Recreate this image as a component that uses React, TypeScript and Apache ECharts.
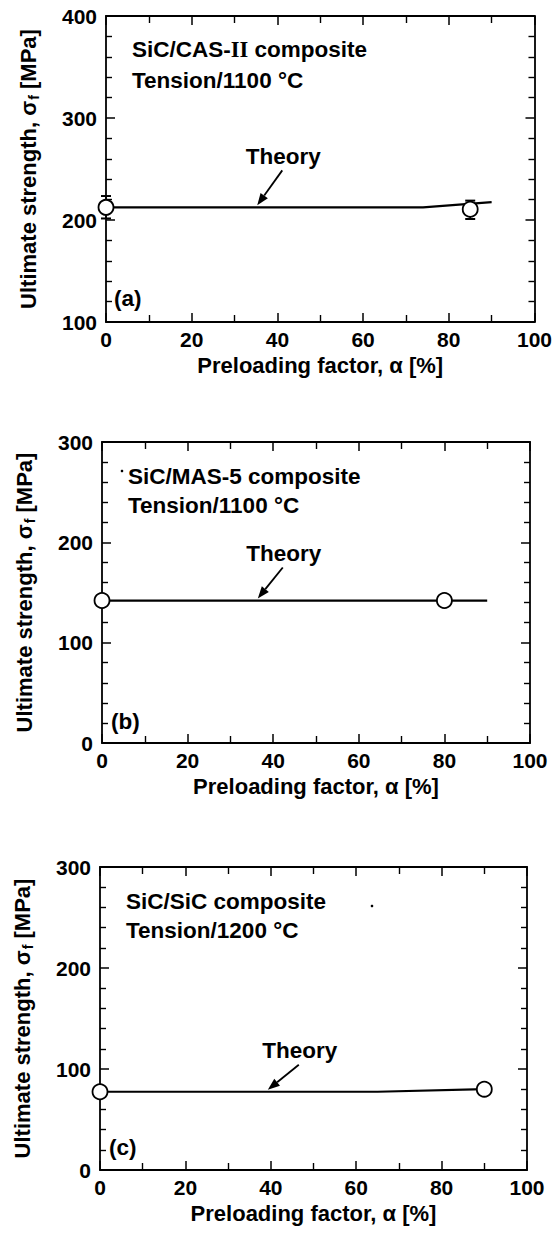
import React, { useEffect, useRef } from "react";
import * as echarts from "echarts";

const FONT = '"Liberation Sans", Arial, Helvetica, sans-serif';
const WEIGHT = "bold";

// ---- axis ranges / labels ----
const X_MIN = 0;
const X_MAX = 100;
const X_STEP = 20;
const Y_STEP = 100;
const yMins = [100, 0, 0];
const yMaxs = [400, 300, 300];
const xAxisTitle = "Preloading factor, α [%]";
const yAxisTitle = "Ultimate strength, σ{s|f} [MPa]";
const panelLetters = ["(a)", "(b)", "(c)"];
const materialLabels = ["SiC/CAS-{r|II} composite", "SiC/MAS-5 composite", "SiC/SiC composite"];
const conditionLabels = ["Tension/1100 °C", "Tension/1100 °C", "Tension/1200 °C"];
const theoryLabel = "Theory";

// ---- data (preloading factor %, ultimate strength MPa) ----
const expA = [[0, 212.4], [85, 210.5]];
const errA = [[0, 201.5, 223.5], [85, 201, 219]];
const theoryA = [[0, 212.4], [74, 212.4], [90, 217.5]];

const expB = [[0, 142], [80, 142]];
const theoryB = [[0, 142], [90, 142]];

const expC = [[0, 77.5], [90, 80]];
const theoryC = [[0, 77.5], [65, 77.5], [90, 80]];

const experiments = [expA, expB, expC];
const theories = [theoryA, theoryB, theoryC];

// arrow tip anchors on the theory line (data coords)
const theoryTips = [[35.3, 212.4], [36.4, 142], [39.3, 77.5]];

// ---- layout ----
const grids = [
  { left: 106, top: 16, width: 429, height: 306 },
  { left: 102, top: 442, width: 428, height: 301 },
  { left: 100, top: 867, width: 427, height: 303 },
];
const arrowVec = [[25, -35], [25, -31], [31, -25]];
const textBlocks = [
  { x: 132, y1: 49, y2: 80, lx: 114, ly: 298 },
  { x: 128, y1: 476, y2: 505, lx: 111, ly: 721 },
  { x: 126, y1: 901, y2: 930, lx: 109, ly: 1147 },
];

const LINE = "#000";

function xAxes(gi: number) {
  const base = {
    type: "value",
    gridIndex: gi,
    min: X_MIN,
    max: X_MAX,
    interval: X_STEP,
    splitLine: { show: false },
    axisLine: { show: true, onZero: false, lineStyle: { color: LINE, width: 1.8 } },
    axisTick: { show: true, inside: true, length: 9, lineStyle: { color: LINE, width: 1.5 } },
    minorTick: { show: true, splitNumber: 2, length: 7, lineStyle: { color: LINE, width: 1.4 } },
  };
  return [
    {
      ...base,
      position: "bottom",
      axisLabel: { color: "#000", fontSize: 21, fontWeight: WEIGHT, fontFamily: FONT, margin: 7 },
      name: xAxisTitle,
      nameLocation: "middle",
      nameGap: 32,
      nameTextStyle: { color: "#000", fontSize: 22, fontWeight: WEIGHT, fontFamily: FONT },
    },
    { ...base, position: "top", axisLabel: { show: false } },
  ];
}

function yAxes(gi: number) {
  const base = {
    type: "value",
    gridIndex: gi,
    min: yMins[gi],
    max: yMaxs[gi],
    interval: Y_STEP,
    splitLine: { show: false },
    axisLine: { show: true, onZero: false, lineStyle: { color: LINE, width: 1.8 } },
    axisTick: { show: true, inside: true, length: 9, lineStyle: { color: LINE, width: 1.5 } },
    minorTick: { show: true, splitNumber: 5, length: 6, lineStyle: { color: LINE, width: 1.4 } },
  };
  return [
    {
      ...base,
      position: "left",
      axisLabel: { color: "#000", fontSize: 21, fontWeight: WEIGHT, fontFamily: FONT, margin: 9 },
      name: yAxisTitle,
      nameLocation: "middle",
      nameGap: 65,
      nameTextStyle: {
        color: "#000",
        fontSize: 22,
        fontWeight: WEIGHT,
        fontFamily: FONT,
        rich: { s: { fontSize: 14, fontWeight: WEIGHT, fontFamily: FONT, color: "#000", padding: [12, 0, 0, 1] } },
      },
    },
    { ...base, position: "right", axisLabel: { show: false } },
  ];
}

function buildOption() {
  const xAxis: any[] = [];
  const yAxis: any[] = [];
  [0, 1, 2].forEach((g) => {
    xAxis.push(...xAxes(g));
    yAxis.push(...yAxes(g));
  });
  const series: any[] = [];
  // theory lines: series 0..2
  theories.forEach((t, g) => {
    series.push({
      type: "line",
      xAxisIndex: g * 2,
      yAxisIndex: g * 2,
      data: t,
      showSymbol: false,
      symbol: "none",
      lineStyle: { color: LINE, width: 2.2 },
      z: 2,
      clip: false,
    });
  });
  // error bars (panel a)
  series.push({
    type: "custom",
    xAxisIndex: 0,
    yAxisIndex: 0,
    data: errA,
    clip: false,
    z: 3,
    encode: { x: 0, y: [1, 2] },
    renderItem: (params: any, api: any) => {
      const x = api.value(0);
      const lo = api.coord([x, api.value(1)]);
      const hi = api.coord([x, api.value(2)]);
      const hw = 5;
      const st = { stroke: LINE, lineWidth: 1.6 };
      return {
        type: "group",
        children: [
          { type: "line", shape: { x1: lo[0], y1: lo[1], x2: hi[0], y2: hi[1] }, style: st },
          { type: "line", shape: { x1: lo[0] - hw, y1: lo[1], x2: lo[0] + hw, y2: lo[1] }, style: { ...st, lineWidth: 2 } },
          { type: "line", shape: { x1: hi[0] - hw, y1: hi[1], x2: hi[0] + hw, y2: hi[1] }, style: { ...st, lineWidth: 2 } },
        ],
      };
    },
  });
  // experimental circles
  experiments.forEach((e, g) => {
    series.push({
      type: "scatter",
      xAxisIndex: g * 2,
      yAxisIndex: g * 2,
      data: e,
      symbol: "circle",
      symbolSize: 15,
      clip: false,
      z: 4,
      itemStyle: { color: "#fff", borderColor: LINE, borderWidth: 1.8, opacity: 1 },
    });
  });
  return {
    animation: false,
    backgroundColor: "#fff",
    grid: grids.map((g) => ({ ...g, containLabel: false })),
    xAxis,
    yAxis,
    series,
  };
}

export default function App() {
  const ref = useRef<HTMLDivElement>(null);
  useEffect(() => {
    if (!ref.current) return;
    const chart = echarts.init(ref.current, null, { renderer: "svg" });
    chart.setOption(buildOption());

    const graphics: any[] = [];
    const txt = (text: string, x: number, y: number, extra: any = {}) => ({
      type: "text",
      x,
      y,
      z: 10,
      style: {
        text,
        fill: "#000",
        fontSize: 22.5,
        fontWeight: WEIGHT,
        fontFamily: FONT,
        verticalAlign: "middle",
        align: "left",
        rich: {
          r: { fontFamily: '"Liberation Serif", "Times New Roman", serif', fontWeight: WEIGHT, fontSize: 22.5, fill: "#000" },
        },
        ...extra,
      },
    });
    textBlocks.forEach((b, i) => {
      graphics.push(txt(materialLabels[i], b.x, b.y1));
      graphics.push(txt(conditionLabels[i], b.x, b.y2));
      graphics.push(txt(panelLetters[i], b.lx, b.ly));
    });
    theoryTips.forEach((tipData, i) => {
      const p = chart.convertToPixel({ seriesIndex: i }, tipData) as number[];
      const tip = [p[0], p[1] - 2];
      const [dx, dy] = arrowVec[i];
      const start = [tip[0] + dx, tip[1] + dy];
      const len = Math.hypot(dx, dy);
      const ux = -dx / len;
      const uy = -dy / len;
      const headL = 12;
      const headW = 4.5;
      const base = [tip[0] - ux * headL, tip[1] - uy * headL];
      const perp = [-uy, ux];
      graphics.push({
        type: "line",
        z: 10,
        shape: { x1: start[0], y1: start[1], x2: base[0], y2: base[1] },
        style: { stroke: LINE, lineWidth: 1.8 },
      });
      graphics.push({
        type: "polygon",
        z: 10,
        shape: {
          points: [
            tip,
            [base[0] + perp[0] * headW, base[1] + perp[1] * headW],
            [base[0] - perp[0] * headW, base[1] - perp[1] * headW],
          ],
        },
        style: { fill: LINE },
      });
      graphics.push(txt(theoryLabel, start[0] + 1, start[1] - 14, { align: "center" }));
    });
    // small scan specks
    graphics.push({ type: "circle", z: 10, shape: { cx: 122, cy: 471, r: 1.3 }, style: { fill: "#000" } });
    graphics.push({ type: "circle", z: 10, shape: { cx: 372, cy: 906, r: 1.3 }, style: { fill: "#000" } });

    chart.setOption({ graphic: graphics });
    return () => chart.dispose();
  }, []);
  return (
    <div
      ref={ref}
      style={{ position: "absolute", left: 0, top: 0, width: 555, height: 1238, background: "#fff" }}
    />
  );
}
